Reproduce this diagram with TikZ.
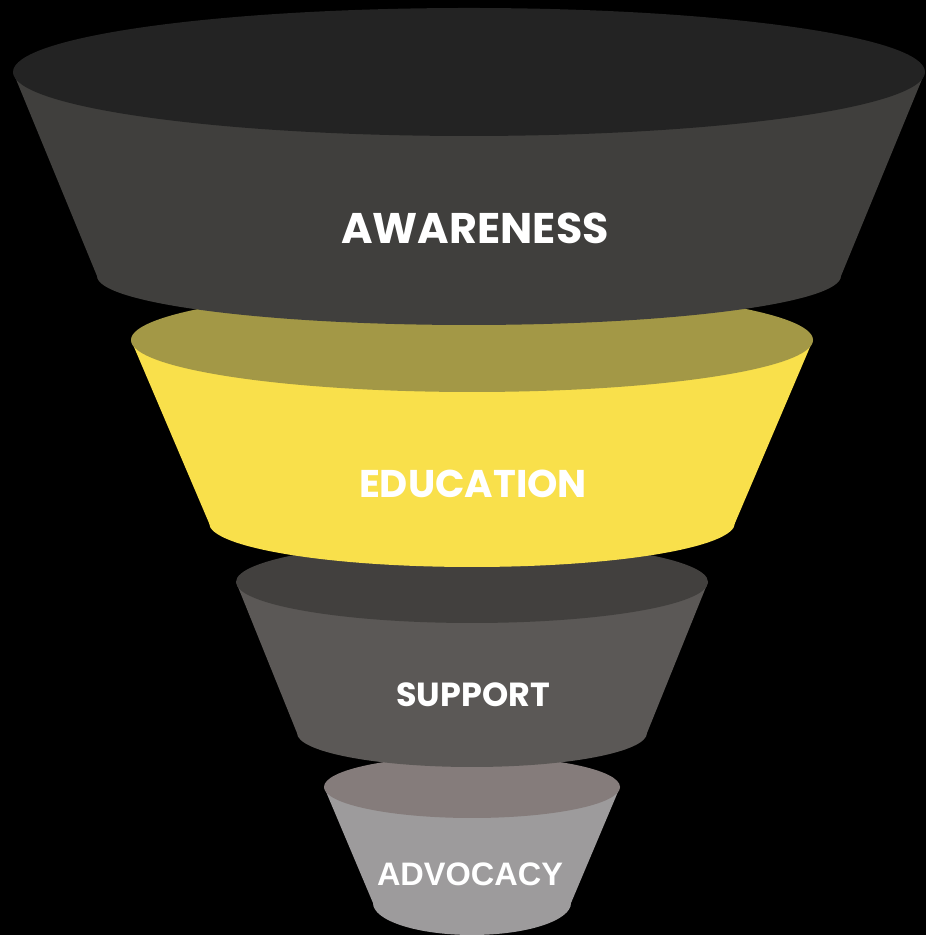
\documentclass[tikz,border=0pt]{standalone}
\usepackage{fontspec}
\newfontfamily\popfont{Poppins}
\newfontfamily\arialfont{Liberation Sans}
\usetikzlibrary{positioning}

\definecolor{awtop}{HTML}{232323}
\definecolor{awbody}{HTML}{403F3D}
\definecolor{edtop}{HTML}{A39846}
\definecolor{edbody}{HTML}{F9E04B}
\definecolor{sutop}{HTML}{42403E}
\definecolor{subody}{HTML}{5B5856}
\definecolor{adtop}{HTML}{857C7B}
\definecolor{adbody}{HTML}{9D9B9C}

% one funnel ring: #1 cx, #2 top y, #3 top rx, #4 top ry,
% #5 bottom y, #6 bottom rx, #7 bottom ry, #8 top colour, #9 body colour
\newcommand{\funnelring}[9]{%
  \fill[#9] (#1-#3,#2) -- (#1-#6,#5)
    arc[start angle=180,end angle=360,x radius=#6,y radius=#7]
    -- (#1+#3,#2) -- cycle;
  \fill[#8] (#1,#2) ellipse[x radius=#3,y radius=#4];
}

\begin{document}
\begin{tikzpicture}[x=0.02cm,y=0.02cm,
		stage/.style={text=white,inner sep=0pt,font=\popfont\bfseries}]
		\fill[black] (0,0) rectangle (926,935);
		\useasboundingbox (0,0) rectangle (926,935);
		
		% rings from the narrow end up, so each one hides the next
		\funnelring{472}{148}{148}{31}{32}{99}{32}{adtop}{adbody}
		\funnelring{472}{353}{236}{41}{202}{175}{34}{sutop}{subody}
		\funnelring{472}{595}{341}{52}{412}{263}{44}{edtop}{edbody}
		\funnelring{469}{863}{456}{64}{659}{372}{49}{awtop}{awbody}
		
		\node[stage,font=\popfont\bfseries\fontsize{24.4}{26}\selectfont] (awareness) at (475,707) {AWARENESS};
		\node[stage,font=\popfont\bfseries\fontsize{22}{24}\selectfont]   (education) at (473,451) {EDUCATION};
		\node[stage,font=\popfont\bfseries\fontsize{19}{21}\selectfont]   (support)   at (473,240) {SUPPORT};
		\node[stage,font=\arialfont\bfseries\fontsize{18.5}{20}\selectfont] (advocacy) at (470,61) {ADVOCACY};
\end{tikzpicture}
\end{document}
